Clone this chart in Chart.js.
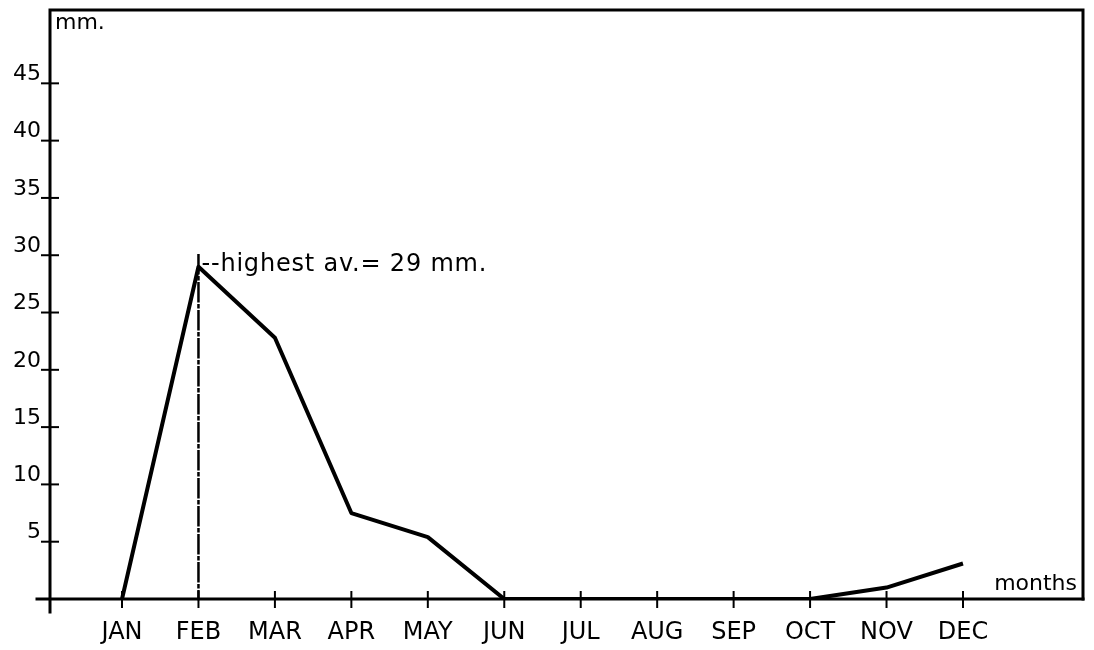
<!DOCTYPE html>
<html>
<head>
<meta charset="utf-8">
<script src="https://cdn.jsdelivr.net/npm/chart.js@4"></script>
<style>
html,body{margin:0;padding:0;background:#fff;}
#wrap{width:1094px;height:650px;position:relative;}
</style>
</head>
<body>
<div id="wrap"><canvas id="c" width="1094" height="650"></canvas></div>
<script>
const months = ['JAN','FEB','MAR','APR','MAY','JUN','JUL','AUG','SEP','OCT','NOV','DEC'];
const monthIndex = [1,2,3,4,5,6,7,8,9,10,11,12];
const rainfall = [0, 29, 22.8, 7.5, 5.4, 0, 0, 0, 0, 0, 1, 3.1];
const yTickValues = [5,10,15,20,25,30,35,40,45];
const peakMonth = 2;
const peakValue = 29;
const peakMarkerTop = 30;
const annotationText = '--highest av.= 29 mm.';
const yUnit = 'mm.';
const xUnit = 'months';

const FONT = '"DejaVu Sans", sans-serif';
const INK = '#000';

const framePlugin = {
  id: 'frame',
  afterDraw(chart) {
    const ctx = chart.ctx;
    const a = chart.chartArea;
    const xs = chart.scales.x, ys = chart.scales.y;
    ctx.save();
    ctx.strokeStyle = INK;
    ctx.lineCap = 'square';
    ctx.lineWidth = 3;
    ctx.beginPath();
    ctx.moveTo(a.left, a.bottom + 13);
    ctx.lineTo(a.left, a.top);
    ctx.lineTo(a.right, a.top);
    ctx.lineTo(a.right, a.bottom);
    ctx.stroke();
    ctx.beginPath();
    ctx.moveTo(a.left - 13, a.bottom);
    ctx.lineTo(a.right, a.bottom);
    ctx.stroke();
    ctx.lineWidth = 2;
    ys.ticks.forEach(t => {
      const y = ys.getPixelForValue(t.value);
      ctx.beginPath();
      ctx.moveTo(a.left - 8, y);
      ctx.lineTo(a.left + 8, y);
      ctx.stroke();
    });
    xs.ticks.forEach(t => {
      const x = xs.getPixelForValue(t.value);
      ctx.beginPath();
      ctx.moveTo(x, a.bottom - 7);
      ctx.lineTo(x, a.bottom + 8);
      ctx.stroke();
    });
    const px = xs.getPixelForValue(peakMonth);
    const pyTop = ys.getPixelForValue(peakMarkerTop);
    ctx.lineWidth = 2.5;
    ctx.setLineDash([18, 4, 2, 4]);
    ctx.beginPath();
    ctx.moveTo(px, pyTop);
    ctx.lineTo(px, a.bottom);
    ctx.stroke();
    ctx.setLineDash([]);
    const py = ys.getPixelForValue(peakValue);
    ctx.fillStyle = INK;
    ctx.letterSpacing = '0.8px';
    ctx.font = '24px ' + FONT;
    ctx.textBaseline = 'middle';
    ctx.textAlign = 'left';
    ctx.fillText(annotationText, px + 3, py - 2);
    ctx.font = '22px ' + FONT;
    ctx.letterSpacing = '0px';
    ctx.fillText(yUnit, a.left + 5, a.top + 13);
    ctx.textAlign = 'right';
    ctx.fillText(xUnit, a.right - 6, a.bottom - 15);
    ctx.restore();
  }
};

new Chart(document.getElementById('c'), {
  type: 'line',
  data: {
    datasets: [{
      data: monthIndex.map((m, i) => ({x: m, y: rainfall[i]})),
      borderColor: INK,
      borderWidth: 4,
      pointRadius: 0,
      tension: 0,
      fill: false,
      borderJoinStyle: 'round'
    }]
  },
  options: {
    responsive: false,
    animation: false,
    devicePixelRatio: 1,
    layout: { padding: { top: 10, right: 11, left: 0, bottom: 0 } },
    plugins: { legend: { display: false }, tooltip: { enabled: false } },
    scales: {
      x: {
        type: 'linear',
        min: 0.058,
        max: 13.57,
        afterBuildTicks: s => { s.ticks = monthIndex.map(v => ({value: v})); },
        afterFit: s => { s.height = 51; s.paddingLeft = 0; s.paddingRight = 0; },
        grid: { display: false, drawTicks: false },
        border: { display: false },
        ticks: {
          color: INK,
          font: { family: FONT, size: 24 },
          padding: 19,
          maxRotation: 0,
          autoSkip: false,
          callback: v => months[v - 1]
        }
      },
      y: {
        type: 'linear',
        min: 0,
        max: 51.4,
        afterBuildTicks: s => { s.ticks = yTickValues.map(v => ({value: v})); },
        afterFit: s => { s.width = 50; s.paddingTop = 0; s.paddingBottom = 0; },
        grid: { display: false, drawTicks: false },
        border: { display: false },
        ticks: {
          color: INK,
          font: { family: FONT, size: 22 },
          padding: 9,
          labelOffset: -9,
          autoSkip: false
        }
      }
    }
  },
  plugins: [framePlugin]
});
</script>
</body>
</html>
